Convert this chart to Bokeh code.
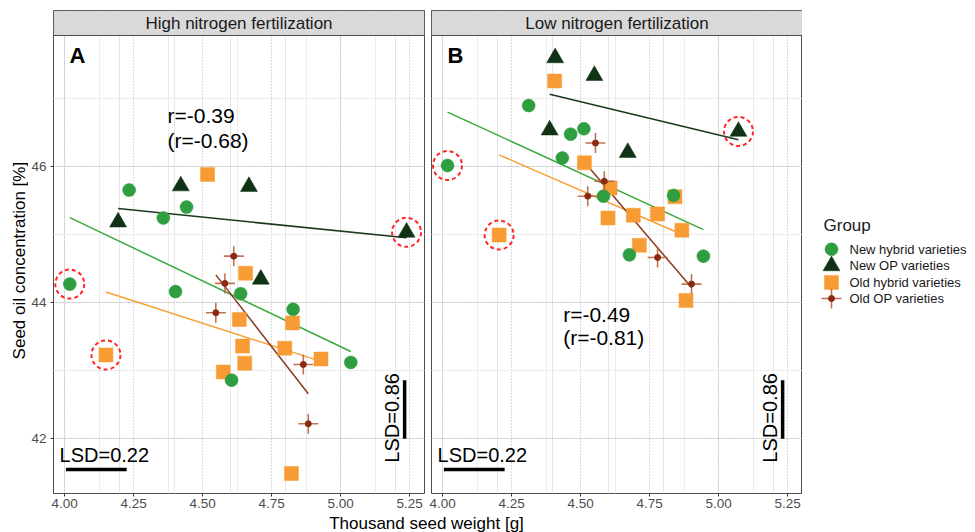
import numpy as np
from bokeh.plotting import figure
from bokeh.layouts import row, column
from bokeh.models import (Range1d, LinearAxis, Grid, FixedTicker, PrintfTickFormatter,
                          BoxAnnotation, Label)
from bokeh.embed import file_html
from bokeh.resources import INLINE

FONT = "Liberation Sans"

# ---------------- data ----------------
panel_titles = ["High nitrogen fertilization", "Low nitrogen fertilization"]
panel_letters = ["A", "B"]
group_names = ["New hybrid varieties", "New OP varieties", "Old hybrid varieties", "Old OP varieties"]

# High nitrogen
hn_new_hybrid_x = [4.234, 4.358, 4.442, 4.019, 4.402, 4.638, 4.828, 5.037, 4.605]
hn_new_hybrid_y = [45.65, 45.24, 45.40, 44.27, 44.16, 44.13, 43.90, 43.12, 42.86]
hn_new_op_x = [4.421, 4.668, 4.194, 5.239, 4.711]
hn_new_op_y = [45.71, 45.70, 45.18, 45.03, 44.34]
hn_old_hybrid_x = [4.518, 4.656, 4.150, 4.633, 4.826, 4.645, 4.798, 4.929, 4.653, 4.575, 4.822]
hn_old_hybrid_y = [45.88, 44.43, 43.23, 43.75, 43.70, 43.36, 43.33, 43.17, 43.11, 42.98, 41.49]
hn_old_op_x = [4.613, 4.581, 4.548, 4.865, 4.883]
hn_old_op_y = [44.68, 44.28, 43.85, 43.09, 42.22]

# Low nitrogen
ln_new_hybrid_x = [4.018, 4.312, 4.464, 4.512, 4.434, 4.583, 4.837, 4.677, 4.945]
ln_new_hybrid_y = [46.01, 46.89, 46.47, 46.55, 46.12, 45.56, 45.57, 44.70, 44.68]
ln_new_op_x = [4.408, 4.550, 4.388, 4.671, 5.072]
ln_new_op_y = [47.59, 47.33, 46.53, 46.20, 46.51]
ln_old_hybrid_x = [4.406, 4.514, 4.607, 4.205, 4.599, 4.691, 4.779, 4.842, 4.867, 4.713, 4.882]
ln_old_hybrid_y = [47.25, 46.05, 45.68, 44.99, 45.24, 45.28, 45.30, 45.55, 45.06, 44.84, 44.03]
ln_old_op_x = [4.554, 4.586, 4.526, 4.779, 4.902]
ln_old_op_y = [46.34, 45.78, 45.56, 44.66, 44.27]

# circled (outlier) points: (group index, point index)
hn_outliers = [(0, 3), (2, 2), (1, 3)]
ln_outliers = [(0, 0), (2, 3), (1, 4)]

r_all = ["r=-0.39", "r=-0.49"]
r_without_outliers = ["(r=-0.68)", "(r=-0.81)"]
lsd_tsw = 0.22
lsd_oil = 0.86

x_ticks = [4.00, 4.25, 4.50, 4.75, 5.00, 5.25]
x_minor = [4.125, 4.375, 4.625, 4.875, 5.125]
y_ticks = [42, 44, 46]
y_minor = [43, 45, 47]

# ---------------- styling ----------------
C_NEW_HYB = "#2e9e40"
C_NEW_OP = "#0f3314"
C_OLD_HYB = "#f79c34"
C_OLD_OP = "#8b2a14"
C_OLD_OP_CROSS = "#b85a36"
L_NEW_HYB = "#3aab3a"
L_NEW_OP = "#1a3a1e"
L_OLD_HYB = "#f7a035"
L_OLD_OP = "#8b3a1f"
line_cols = [L_NEW_HYB, L_NEW_OP, L_OLD_HYB, L_OLD_OP]

X_START, X_END = 3.960, 5.304
Y_BOTTOM, Y_TOP = 41.197, 47.918
FRAME_W = 371
DATA_H = 458
STRIP_H = 25
PPU_Y = DATA_H / (Y_TOP - Y_BOTTOM)
PPU_X = FRAME_W / (X_END - X_START)
Y_END = Y_TOP + STRIP_H / PPU_Y
ROW_H = 514
TOTAL_W = 975
LEG_W = 174

panel_data = [
    [(hn_new_hybrid_x, hn_new_hybrid_y), (hn_new_op_x, hn_new_op_y),
     (hn_old_hybrid_x, hn_old_hybrid_y), (hn_old_op_x, hn_old_op_y)],
    [(ln_new_hybrid_x, ln_new_hybrid_y), (ln_new_op_x, ln_new_op_y),
     (ln_old_hybrid_x, ln_old_hybrid_y), (ln_old_op_x, ln_old_op_y)],
]
panel_outliers = [hn_outliers, ln_outliers]
r_text_x = [4.373, 4.437]
r_text_y = [(46.74, 46.38), (43.82, 43.48)]


def blank_fig(w, h):
    f = figure(width=w, height=h, x_range=Range1d(0, w), y_range=Range1d(0, h),
               toolbar_location=None, output_backend="svg", title=None, min_border=0,
               x_axis_location=None, y_axis_location=None)
    f.outline_line_color = None
    f.background_fill_color = "white"
    f.border_fill_color = "white"
    for g in f.grid:
        g.visible = False
    return f


def draw_group_markers(f, gi, xs, ys):
    if gi == 0:
        f.scatter(xs, ys, marker="circle", size=13, fill_color=C_NEW_HYB,
                  line_color=C_NEW_HYB, line_width=0.5)
    elif gi == 1:
        f.scatter(xs, ys, marker="triangle", size=17, fill_color=C_NEW_OP,
                  line_color=C_NEW_OP, line_width=0.5)
    elif gi == 2:
        f.scatter(xs, ys, marker="square", size=14, fill_color=C_OLD_HYB,
                  line_color=C_OLD_HYB, line_width=0.5)
    else:
        f.scatter(xs, ys, marker="cross", size=20, line_color=C_OLD_OP_CROSS,
                  line_alpha=0.85, line_width=1.6)
        f.scatter(xs, ys, marker="circle", size=6, fill_color=C_OLD_OP, line_color=C_OLD_OP)


def style_axis(ax, standoff):
    ax.axis_line_color = None
    ax.major_tick_line_color = "#333333"
    ax.major_tick_out = 3
    ax.major_tick_in = 0
    ax.minor_tick_line_color = None
    ax.major_label_standoff = standoff
    ax.major_label_text_font = FONT
    ax.major_label_text_font_size = "13.5px"
    ax.major_label_text_color = "#4d4d4d"


def make_panel(idx):
    p = figure(frame_width=FRAME_W, frame_height=DATA_H + STRIP_H,
               x_range=Range1d(X_START, X_END), y_range=Range1d(Y_BOTTOM, Y_END),
               x_axis_location=None, y_axis_location=None,
               toolbar_location=None, output_backend="svg", title=None,
               min_border_top=10, min_border_bottom=0,
               min_border_left=24 if idx == 0 else 3,
               min_border_right=4 if idx == 0 else 0)
    p.background_fill_color = "white"
    p.border_fill_color = "white"
    p.outline_line_color = "#4d4d4d"
    p.outline_line_width = 1

    xt = FixedTicker(ticks=x_ticks, minor_ticks=x_minor)
    yt = FixedTicker(ticks=y_ticks, minor_ticks=y_minor)

    for dim, tk in ((0, xt), (1, yt)):
        g = Grid(dimension=dim, ticker=tk)
        g.grid_line_color = "#b8b8b8"
        g.grid_line_dash = "1 2"
        g.grid_line_width = 1
        g.minor_grid_line_color = "#ececec"
        g.minor_grid_line_width = 1
        p.add_layout(g)

    xa = LinearAxis(ticker=xt, formatter=PrintfTickFormatter(format="%.2f"))
    style_axis(xa, 1)
    p.add_layout(xa, "below")

    if idx == 0:
        ya = LinearAxis(ticker=yt)
        style_axis(ya, 3)
        p.add_layout(ya, "left")

    groups = panel_data[idx]
    # regression lines
    for (gx, gy), lc in zip(groups, line_cols):
        gx = np.asarray(gx); gy = np.asarray(gy)
        coef = np.polyfit(gx, gy, 1)
        xs = np.array([gx.min(), gx.max()])
        p.line(xs, np.polyval(coef, xs), line_color=lc, line_width=1.5)

    for gi in (2, 0, 1, 3):
        draw_group_markers(p, gi, groups[gi][0], groups[gi][1])

    # dashed red circles around outliers
    ox = [groups[g][0][i] for g, i in panel_outliers[idx]]
    oy = [groups[g][1][i] for g, i in panel_outliers[idx]]
    p.scatter(ox, oy, marker="circle", size=29, fill_color=None, line_color="#ff2626",
              line_width=2, line_dash="4 3")

    # correlation texts
    for t, yy in zip([r_all[idx], r_without_outliers[idx]], r_text_y[idx]):
        p.add_layout(Label(x=r_text_x[idx], y=yy, text=t, text_align="left",
                           text_baseline="middle", text_font=FONT,
                           text_font_size="21px", text_color="black"))

    # LSD bars
    hb_x0, hb_y = 4.005, 41.55
    p.segment(x0=[hb_x0], y0=[hb_y], x1=[hb_x0 + lsd_tsw], y1=[hb_y],
              line_color="black", line_width=3.5)
    p.add_layout(Label(x=3.982, y=41.76, text="LSD=%.2f" % lsd_tsw, text_align="left",
                       text_baseline="middle", text_font=FONT, text_font_size="20px",
                       text_color="black"))
    vb_x, vb_y0 = 5.232, 42.0
    p.segment(x0=[vb_x], y0=[vb_y0], x1=[vb_x], y1=[vb_y0 + lsd_oil],
              line_color="black", line_width=3.5)
    p.add_layout(Label(x=5.186, y=41.65, text="LSD=%.2f" % lsd_oil, angle=np.pi / 2,
                       text_align="left", text_baseline="middle", text_font=FONT,
                       text_font_size="20px", text_color="black"))

    # panel letter
    p.add_layout(Label(x=X_START + 16 / PPU_X, y=47.63, text=panel_letters[idx],
                       text_align="left", text_baseline="middle", text_font=FONT,
                       text_font_size="22px", text_font_style="bold", text_color="black"))

    # facet strip
    p.add_layout(BoxAnnotation(bottom=Y_TOP, top=Y_END, fill_color="#d9d9d9", fill_alpha=1,
                               line_color="#4d4d4d", line_width=1, line_alpha=1))
    p.add_layout(Label(x=(X_START + X_END) / 2, y=(Y_TOP + Y_END) / 2, text=panel_titles[idx],
                       text_align="center", text_baseline="middle", text_font=FONT,
                       text_font_size="17px", text_color="#1a1a1a"))
    return p


pA = make_panel(0)
pB = make_panel(1)

# y-axis title
ytf = blank_fig(28, ROW_H)
ytf.add_layout(Label(x=19, y=ROW_H - 264, text="Seed oil concentration [%]", angle=np.pi / 2,
                     text_align="center", text_baseline="middle", text_font=FONT,
                     text_font_size="17px", text_color="black"))

# legend (keys drawn in layout pixels of the legend area)
lf = blank_fig(LEG_W, ROW_H)
LEG_KEY_X = 29
LEG_LABEL_X = 47
LEG_TITLE_Y = ROW_H - 227
LEG_ROW_Y = [ROW_H - 252, ROW_H - 269.5, ROW_H - 287, ROW_H - 304]
lf.add_layout(Label(x=21, y=LEG_TITLE_Y, text="Group", text_align="left",
                    text_baseline="middle", text_font=FONT, text_font_size="17px",
                    text_color="#1a1a1a"))
for gi, (name, ky) in enumerate(zip(group_names, LEG_ROW_Y)):
    draw_group_markers(lf, gi, [LEG_KEY_X], [ky])
    lf.add_layout(Label(x=LEG_LABEL_X, y=ky, text=name, text_align="left",
                        text_baseline="middle", text_font=FONT, text_font_size="13px",
                        text_color="#1a1a1a"))

# x-axis title
xt = blank_fig(TOTAL_W, 18)
xt.add_layout(Label(x=426, y=9, text="Thousand seed weight [g]", text_align="center",
                    text_baseline="middle", text_font=FONT, text_font_size="17px",
                    text_color="black"))

layout = column(row(ytf, pA, pB, lf), xt)
open("out.html", "w").write(file_html(layout, INLINE))
